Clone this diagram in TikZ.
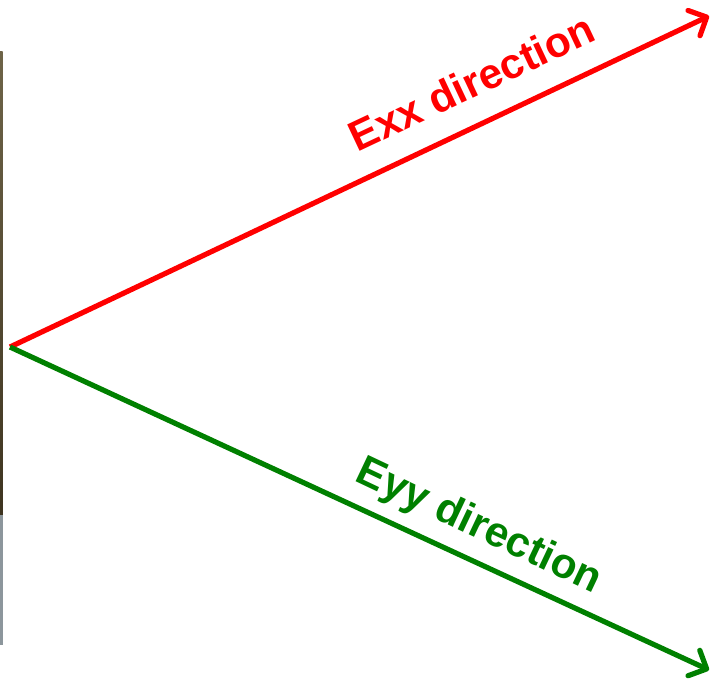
\documentclass[tikz,border=0pt]{standalone}
\usepackage{fontspec}
\setmainfont{Liberation Sans}
\usetikzlibrary{arrows.meta}
\definecolor{exxred}{HTML}{FF0000}
\definecolor{eyygreen}{HTML}{008000}
\definecolor{striptop}{HTML}{6E6448}
\definecolor{stripmid}{HTML}{3E3420}
\definecolor{stripgray}{HTML}{8C969C}

\begin{document}
\begin{tikzpicture}[
  x=1bp, y=-1bp,
  axisline/.style={line width=5.2bp, -{Straight Barb[length=14bp, width=28bp, round]}},
  dirlabel/.style={font=\fontsize{42.5}{50}\selectfont\bfseries, anchor=base, inner sep=0pt},
]
\useasboundingbox (0,0) rectangle (712,679);
% thin photo strip at the left edge
\shade[top color=striptop, bottom color=stripmid] (0,52) rectangle (2.5,515);
\fill[stripgray] (0,515) rectangle (2.5,645);

\coordinate (o) at (10,347);
\coordinate (exxend) at (709,16);
\coordinate (eyyend) at (709,670);

\draw[axisline, exxred] (o) -- (exxend);
\draw[axisline, eyygreen] (o) -- (eyyend);

\node[dirlabel, text=exxred, rotate=25.2] (exxtext) at (478,96) {Exx direction};
\node[dirlabel, text=eyygreen, rotate=-25.3] (eyytext) at (474,537) {Eyy direction};
\end{tikzpicture}
\end{document}
